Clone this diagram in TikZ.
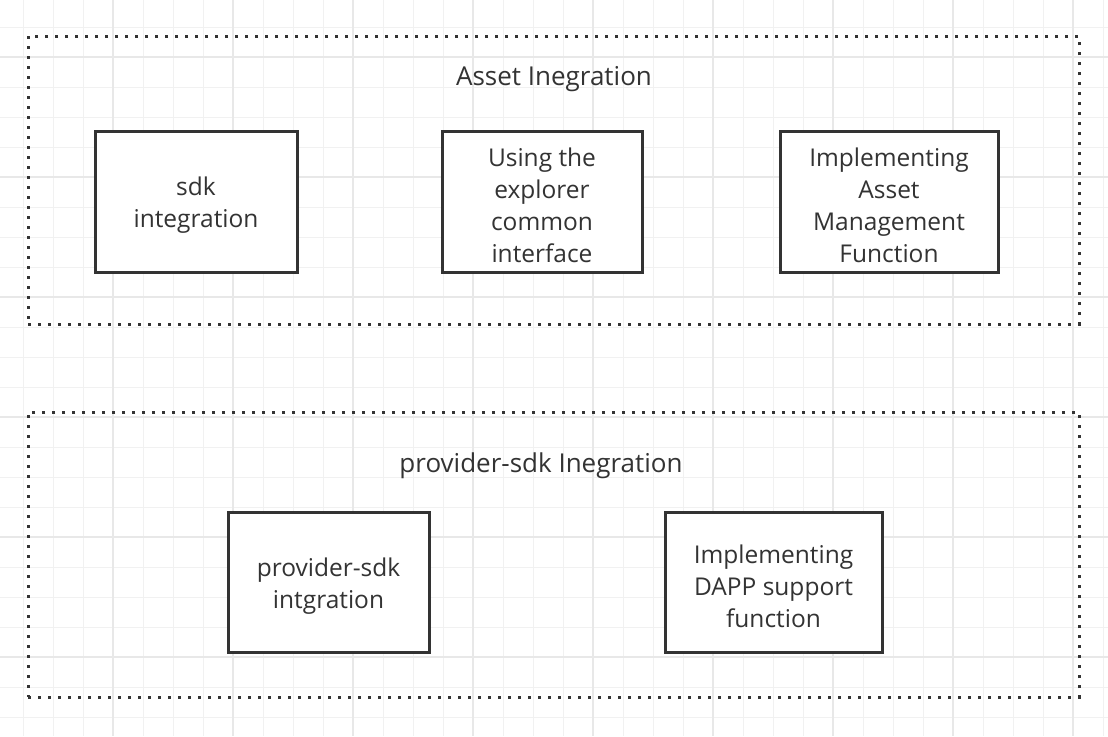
\documentclass[tikz,border=0pt]{standalone}
\usepackage{fontspec}
\setmainfont{Open Sans}
\definecolor{ink}{HTML}{333333}
\definecolor{gridminor}{HTML}{F1F1F1}
\definecolor{gridmajor}{HTML}{E8E8E8}
\tikzset{
  stepbox/.style={draw=ink, line width=3pt, fill=white, inner sep=0pt},
  boxtext/.style={text=ink, align=center, inner sep=0pt, yshift=-4pt,
    font=\fontsize{24.5}{32}\selectfont},
  groupbox/.style={draw=ink, line width=3pt, dash pattern=on 3pt off 7pt, inner sep=0pt},
  grouptitle/.style={text=ink, anchor=base, inner sep=0pt, font=\fontsize{26}{32}\selectfont},
}
\begin{document}
\begin{tikzpicture}[x=1pt,y=-1pt]
\useasboundingbox (0,0) rectangle (1108,736);
\fill[white] (0,0) rectangle (1108,736);
% grid
\foreach \i in {0,...,36} {
  \draw[gridminor, line width=1pt] ({23+30*\i},0) -- ({23+30*\i},736);
}
\foreach \i in {0,...,23} {
  \draw[gridminor, line width=1pt] (0,{27+30*\i}) -- (1108,{27+30*\i});
}
\foreach \i in {0,...,8} {
  \draw[gridmajor, line width=1.3pt] ({113+120*\i},0) -- ({113+120*\i},736);
}
\foreach \i in {0,...,5} {
  \draw[gridmajor, line width=1.3pt] (0,{57+120*\i}) -- (1108,{57+120*\i});
}
% groups
\node[groupbox, minimum width=1051pt, minimum height=288pt] (g1) at (553.5,180) {};
\node[groupbox, minimum width=1051pt, minimum height=285pt] (g2) at (553.5,554.5) {};
\node[grouptitle] (t1) at (554,85) {Asset Inegration};
\node[grouptitle] (t2) at (541,472) {provider-sdk Inegration};
% boxes
\node[stepbox, minimum width=202pt, minimum height=141pt,
  label={[boxtext]center:{sdk\\integration}}] (b1) at (196,201.5) {};
\node[stepbox, minimum width=200pt, minimum height=141pt,
  label={[boxtext]center:{Using the\\explorer\\common\\interface}}] (b2) at (542,201.5) {};
\node[stepbox, minimum width=218pt, minimum height=141pt,
  label={[boxtext]center:{Implementing\\Asset\\Management\\Function}}] (b3) at (889,201.5) {};
\node[stepbox, minimum width=201pt, minimum height=140pt,
  label={[boxtext]center:{provider-sdk\\intgration}}] (b4) at (328.5,582) {};
\node[stepbox, minimum width=217pt, minimum height=140pt,
  label={[boxtext]center:{Implementing\\DAPP support\\function}}] (b5) at (773.5,582) {};
\end{tikzpicture}
\end{document}
